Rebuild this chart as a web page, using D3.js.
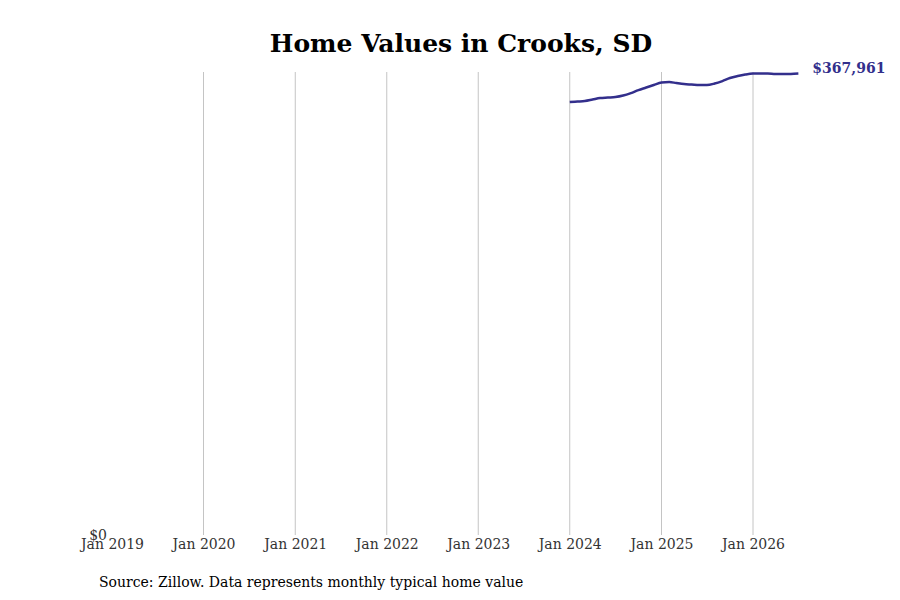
<!DOCTYPE html>
<html><head><meta charset="utf-8">
<script src="https://cdn.jsdelivr.net/npm/d3@7"></script>
<style>body{margin:0;background:#fff}svg{display:block}</style>
</head><body>
<svg id="c" width="900" height="600"></svg>
<script>
const months = ["2024-01","2024-02","2024-03","2024-04","2024-05","2024-06","2024-07","2024-08","2024-09","2024-10","2024-11","2024-12",
"2025-01","2025-02","2025-03","2025-04","2025-05","2025-06","2025-07","2025-08","2025-09","2025-10","2025-11","2025-12",
"2026-01","2026-02","2026-03","2026-04","2026-05","2026-06","2026-07"];
const values = [345231,345630,346028,347224,348420,348819,349217,350413,352407,354799,356792,358785,
360778,361177,360380,359582,359184,358785,358785,359981,361974,364366,365961,367157,
367961,368100,368050,367562,367562,367700,367961];
const tickYears = [2019,2020,2021,2022,2023,2024,2025,2026];
const title = "Home Values in Crooks, SD";
const source = "Source: Zillow. Data represents monthly typical home value";
const endLabel = "$367,961";

const svg = d3.select("#c");
const font = "'DejaVu Serif', serif";
const parse = d3.timeParse("%Y-%m");
const data = months.map((m,i)=>({d:parse(m), v:values[i]}));

const x = d3.scaleTime().domain([new Date(2019,0,1), new Date(2026,0,1)]).range([112,753]);
const y = d3.scaleLinear().domain([0, 369200]).range([535,72]);

// gridlines
svg.append("g").selectAll("line").data(tickYears.slice(1)).join("line")
  .attr("x1",d=>x(new Date(d,0,1))).attr("x2",d=>x(new Date(d,0,1)))
  .attr("y1",72).attr("y2",535).attr("stroke","#c4c4c4").attr("stroke-width",1);

// x axis
const xa = svg.append("g").attr("transform","translate(0,535)")
  .call(d3.axisBottom(x).tickValues(tickYears.map(yy=>new Date(yy,0,1))).tickFormat(d3.timeFormat("Jan %Y")).tickSize(0).tickPadding(4));
xa.select(".domain").remove();
xa.selectAll("text").attr("font-family",font).attr("font-size",14).attr("fill","#333");

// y axis
const ya = svg.append("g").attr("transform","translate(107,0)")
  .call(d3.axisLeft(y).tickValues([0]).tickFormat(d=>"$"+d3.format(",")(d)).tickSize(0).tickPadding(0));
ya.select(".domain").remove();
ya.selectAll("text").attr("font-family",font).attr("font-size",14).attr("fill","#333");

// line
svg.append("path").datum(data)
  .attr("fill","none").attr("stroke","#332f8c").attr("stroke-width",2.5)
  .attr("d", d3.line().x(d=>x(d.d)).y(d=>y(d.v)).curve(d3.curveMonotoneX));

const last = data[data.length-1];
svg.append("text").attr("x", x(last.d)+14).attr("y", y(last.v)-1)
  .attr("font-family",font).attr("font-size",14).attr("font-weight","bold").attr("fill","#332f8c")
  .text(endLabel);

svg.append("text").attr("x",461).attr("y",52).attr("text-anchor","middle")
  .attr("font-family",font).attr("font-size",25).attr("font-weight","bold").attr("fill","#000").text(title);

svg.append("text").attr("x",99).attr("y",587)
  .attr("font-family",font).attr("font-size",14).attr("fill","#000").text(source);
</script>
</body></html>
